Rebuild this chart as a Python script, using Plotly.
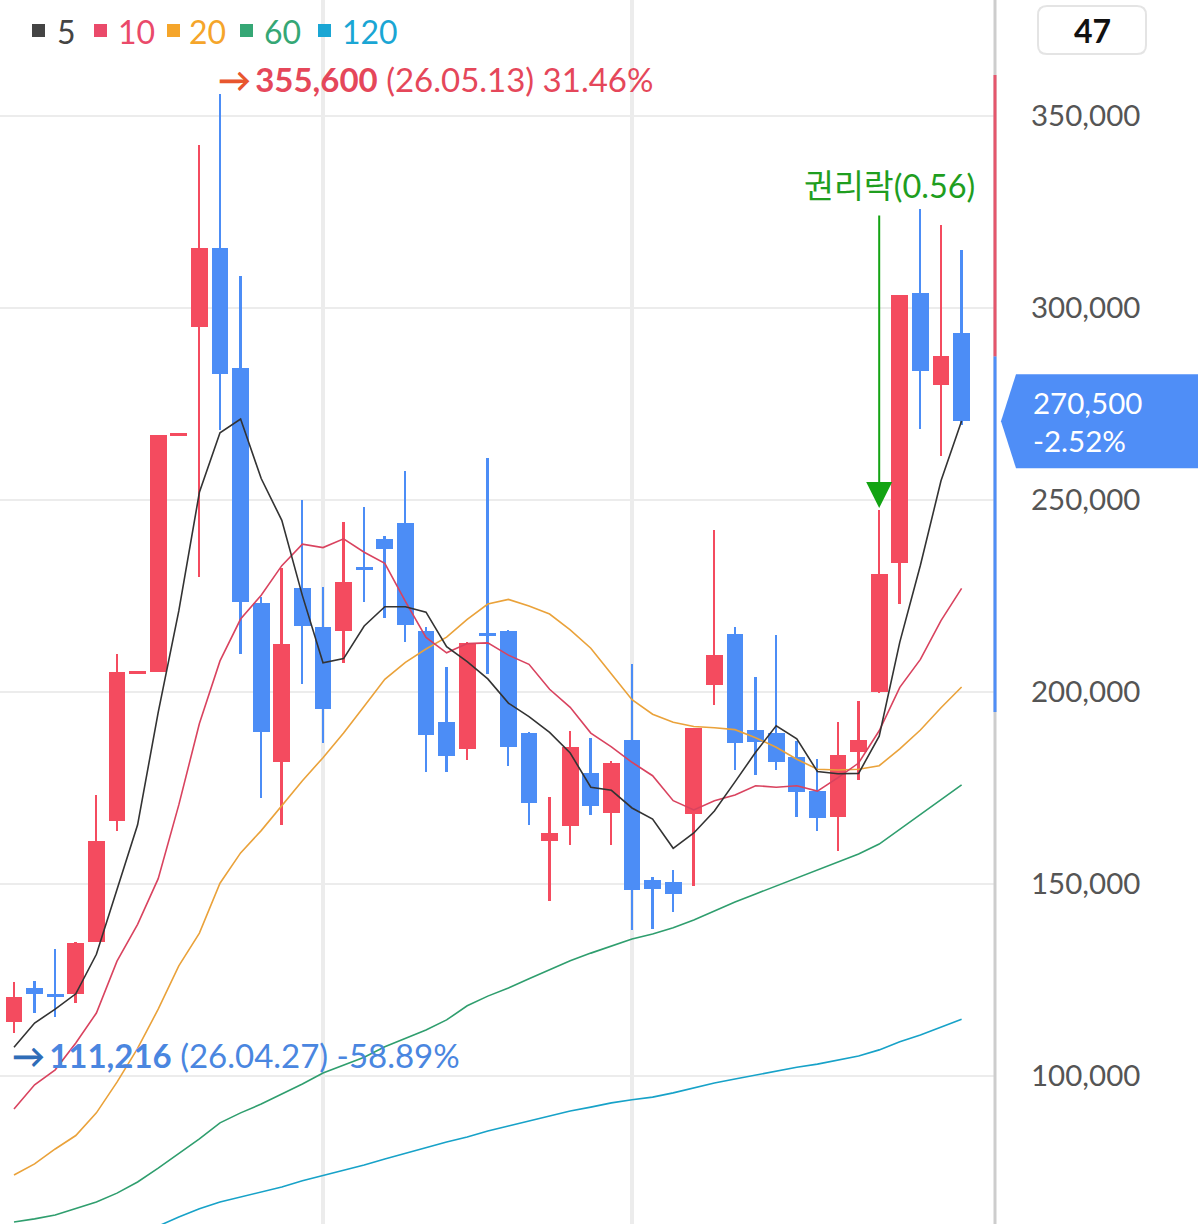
import plotly.graph_objects as go

# ---------------- data ----------------
idx = list(range(47))
open_ = [114000, 122900, 121200, 121300, 134900, 166400, 205200, 205200, 267000, 295000,
         315600, 284300, 223100, 181900, 227000, 216900, 215800, 232300, 239900, 243900,
         215800, 192200, 185100, 215100, 215900, 189200, 161100, 165200, 178800, 168400,
         187500, 151000, 150400, 168100, 201900, 215100, 190100, 189200, 183200, 174100,
         167400, 184300, 200000, 233500, 303900, 280000, 293400]
high = [124400, 124800, 133000, 134900, 173200, 209800, 205200, 267000, 267000, 342500,
        355600, 308400, 224700, 232200, 249900, 227400, 244200, 248200, 240700, 257600,
        217000, 206500, 212900, 261000, 216100, 189500, 172700, 189900, 187900, 182100,
        207400, 151700, 153600, 190700, 242300, 216900, 203800, 214800, 187200, 182600,
        192200, 197700, 247400, 303500, 325900, 321500, 315000]
low = [111216, 116500, 115400, 119100, 134900, 163800, 205200, 205200, 267000, 230000,
       268200, 210000, 172400, 165400, 202100, 186800, 207500, 223400, 219400, 213000,
       179100, 179200, 182300, 204600, 180800, 165400, 145700, 160200, 168000, 160200,
       137900, 138300, 142800, 149500, 196500, 179800, 178300, 179800, 167400, 163700,
       158500, 177200, 199800, 222800, 268500, 261500, 269600]
close = [120600, 121300, 120700, 134700, 161200, 205200, 205200, 267000, 267000, 315600,
         282700, 223400, 189500, 212500, 217200, 195600, 228700, 232100, 237200, 217400,
         188800, 183400, 212700, 214900, 185600, 171200, 163300, 185700, 170400, 181400,
         148400, 148700, 147400, 190600, 209700, 186700, 187000, 181900, 173900, 167200,
         183500, 187500, 230600, 303500, 283500, 287400, 270500]

ma5 = [107500, 113800, 117400, 121400, 131700, 148600, 165400, 194700, 221100, 252000,
       267500, 271100, 255600, 244700, 225100, 207600, 208700, 217200, 222200, 222200,
       220800, 211800, 207900, 203400, 197100, 193600, 189500, 184100, 175200, 174400,
       169800, 166900, 159300, 163300, 169000, 176600, 184300, 191200, 187800, 179300,
       178700, 178800, 188500, 213000, 233000, 255000, 270600]
ma10 = [91400, 97700, 101600, 108600, 116400, 129900, 139500, 151400, 170600, 191800,
        208100, 219000, 225200, 232900, 238500, 237600, 239900, 236400, 233500, 223600,
        214200, 210200, 212600, 212800, 209600, 207200, 200700, 196000, 189300, 185700,
        181700, 178200, 171700, 169300, 171700, 173200, 175600, 175200, 175600, 174200,
        177700, 181500, 189900, 201200, 208500, 218600, 227000]
ma20 = [74200, 77100, 81000, 84500, 90400, 98400, 107200, 117400, 128700, 137200,
        150200, 158100, 163900, 170400, 176900, 182900, 189300, 196300, 203300, 207700,
        211200, 214300, 218900, 222900, 224100, 222400, 220300, 216200, 211400, 204700,
        198000, 194200, 192100, 191000, 190700, 190200, 188100, 185600, 182500, 179900,
        179700, 179900, 180800, 185200, 190100, 195900, 201300]
ma60 = [62000, 62800, 63800, 65400, 67200, 69500, 72400, 76000, 79700, 83600,
        87800, 90400, 92700, 95300, 97900, 100800, 102900, 104900, 107600, 109900,
        112000, 114600, 118300, 120800, 122900, 125300, 127600, 130000, 132000, 133900,
        135700, 137000, 138600, 140600, 143000, 145300, 147400, 149500, 151600, 153700,
        155700, 157800, 160400, 164300, 168200, 172100, 175800]
ma120 = [52400, 53500, 54600, 55700, 56800, 58000, 59300, 60900, 63300, 65400,
         67200, 68500, 69800, 71100, 72700, 74000, 75500, 76800, 78400, 79900,
         81300, 82800, 84100, 85700, 87000, 88300, 89600, 90900, 91900, 93000,
         93800, 94500, 95600, 96900, 98200, 99200, 100300, 101300, 102300, 103100,
         104200, 105200, 106800, 108900, 110700, 112800, 114800]

ma_labels = ["5", "10", "20", "60", "120"]
y_ticks = [100000, 150000, 200000, 250000, 300000, 350000]
y_tick_text = ["100,000", "150,000", "200,000", "250,000", "300,000", "350,000"]
month_breaks = [15, 30]
price_band = [360700, 287400, 194800]   # upper, previous close, lower
hi_idx, hi_text = 10, ["355,600", "(26.05.13) 31.46%"]
lo_idx, lo_text = 0, ["111,216", "(26.04.27) -58.89%"]
event_idx, event_text = 42, "권리락(0.56)"
count_text = "47"
last_text = ["270,500", "-2.52%"]

# ---------------- style ----------------
RED, BLUE = "#f44b5f", "#4c8df6"
MA_COLORS = ["#333333", "#d9435f", "#eaa23a", "#2f9e6e", "#17a2c8"]
LEG_COLORS = ["#444444", "#ea4a6a", "#f5a52a", "#35a775", "#1aa6d4"]
FONT = "Lato, 'Noto Sans', sans-serif"

W, H = 1200, 1224
PW = 995                      # plot width in px
SP = 20.6                     # px per candle
x_lo = -14 / SP
x_hi = x_lo + PW / SP
y_hi, y_lo = 380208, 61458
per_px = (y_hi - y_lo) / H


def px(p):
    return p / PW


def py(p):
    return 1 - p / H


up = []
for i in idx:
    if close[i] > open_[i]:
        up.append(True)
    elif close[i] < open_[i]:
        up.append(False)
    else:
        up.append(i > 0 and close[i] >= close[i - 1])
cols = [RED if u else BLUE for u in up]

min_h = 3 * per_px
body_base, body_h = [], []
for o, c in zip(open_, close):
    lo_, hi_ = min(o, c), max(o, c)
    if hi_ - lo_ < min_h:
        mid = (hi_ + lo_) / 2
        body_base.append(mid - min_h / 2)
        body_h.append(min_h)
    else:
        body_base.append(lo_)
        body_h.append(hi_ - lo_)

fig = go.Figure()
for series, col in zip([ma120, ma60, ma20, ma10, ma5], MA_COLORS[::-1]):
    fig.add_trace(go.Scatter(x=idx, y=series, mode="lines",
                             line=dict(color=col, width=1.6), hoverinfo="skip"))

fig.add_trace(go.Bar(x=idx, base=low, y=[h - l for h, l in zip(high, low)],
                     width=0.09, marker=dict(color=cols, line=dict(width=0)),
                     hoverinfo="skip"))
fig.add_trace(go.Bar(x=idx, base=body_base, y=body_h, width=0.82,
                     marker=dict(color=cols, line=dict(width=0)), hoverinfo="skip"))

fig.update_layout(
    width=W, height=H, margin=dict(l=0, r=W - PW, t=0, b=0),
    plot_bgcolor="white", paper_bgcolor="white", showlegend=False,
    barmode="overlay", bargap=0,
    font=dict(family=FONT),
    xaxis=dict(range=[x_lo, x_hi], tickvals=month_breaks, showticklabels=False,
               showgrid=True, gridcolor="#ececec", gridwidth=4, zeroline=False,
               ticks="", showline=False, fixedrange=True),
    yaxis=dict(range=[y_lo, y_hi], side="right", tickvals=y_ticks, ticktext=y_tick_text,
               tickfont=dict(size=29.5, color="#555555", family=FONT),
               showgrid=True, gridcolor="#ececec", gridwidth=2, zeroline=False,
               ticks="", ticklabelstandoff=35, showline=False, fixedrange=True),
)

shapes = []
# right border and price band
shapes.append(dict(type="line", xref="paper", yref="paper", x0=1, x1=1, y0=0, y1=1,
                   line=dict(color="#cdcdcd", width=3)))
shapes.append(dict(type="line", xref="paper", yref="y", x0=1, x1=1,
                   y0=price_band[1], y1=price_band[0], line=dict(color="#e5566c", width=3)))
shapes.append(dict(type="line", xref="paper", yref="y", x0=1, x1=1,
                   y0=price_band[2], y1=price_band[1], line=dict(color="#4f8ef7", width=3)))

# legend squares
leg_sq_x = [32, 94, 167, 240, 318]
leg_tx_x = [55, 116, 187, 262, 340]
for sx, col in zip(leg_sq_x, LEG_COLORS):
    shapes.append(dict(type="rect", xref="paper", yref="paper",
                       x0=px(sx), x1=px(sx + 13), y0=py(37), y1=py(24),
                       fillcolor=col, line=dict(width=0)))

# count box (rounded)
bx0, bx1, by0, by1, r = 1038, 1146, 6, 54, 9
path = (f"M {px(bx0 + r)},{py(by0)} L {px(bx1 - r)},{py(by0)} "
        f"Q {px(bx1)},{py(by0)} {px(bx1)},{py(by0 + r)} L {px(bx1)},{py(by1 - r)} "
        f"Q {px(bx1)},{py(by1)} {px(bx1 - r)},{py(by1)} L {px(bx0 + r)},{py(by1)} "
        f"Q {px(bx0)},{py(by1)} {px(bx0)},{py(by1 - r)} L {px(bx0)},{py(by0 + r)} "
        f"Q {px(bx0)},{py(by0)} {px(bx0 + r)},{py(by0)} Z")
shapes.append(dict(type="path", xref="paper", yref="paper", path=path,
                   fillcolor="white", line=dict(color="#e4e4e4", width=2)))

# current price tag
yc = (close[-1] - y_lo) / (y_hi - y_lo)
half = 47 / H
tag = (f"M {px(1001)},{yc} L {px(1016)},{yc + half} L {px(1198)},{yc + half} "
       f"L {px(1198)},{yc - half} L {px(1016)},{yc - half} Z")
shapes.append(dict(type="path", xref="paper", yref="paper", path=tag,
                   fillcolor="#4f8ef7", line=dict(width=0)))

fig.update_layout(shapes=shapes)

ann = []
for tx, lab, col in zip(leg_tx_x, ma_labels, LEG_COLORS):
    ann.append(dict(xref="paper", yref="paper", x=px(tx), y=py(31), text=lab,
                    showarrow=False, xanchor="left", yanchor="middle",
                    font=dict(size=32, color=col, family=FONT)))

ann.append(dict(xref="paper", yref="paper", x=px(1092), y=py(30), text=f"<b>{count_text}</b>",
                showarrow=False, xanchor="center", yanchor="middle",
                font=dict(size=32, color="#111111", family=FONT)))

ann.append(dict(xref="paper", yref="y", x=px(1031), y=close[-1],
                text="<br>".join(last_text), showarrow=False, align="left",
                xanchor="left", yanchor="middle",
                font=dict(size=29.5, color="white", family=FONT)))

ann.append(dict(x=hi_idx, y=high[hi_idx], xanchor="left", yanchor="middle",
                xshift=-4, yshift=15, showarrow=False,
                text=f"<span style='color:#e8562e'><b>→</b></span>\u2009<b>{hi_text[0]}</b> {hi_text[1]}",
                font=dict(size=33, color="#e5475a", family=FONT)))

ann.append(dict(x=lo_idx, y=low[lo_idx], xanchor="left", yanchor="middle",
                xshift=-4, yshift=-22, showarrow=False,
                text=f"<span style='color:#2f6db8'><b>→</b></span>\u2009<b>{lo_text[0]}</b> {lo_text[1]}",
                font=dict(size=33, color="#4a86e0", family=FONT)))

ann.append(dict(x=event_idx, y=high[event_idx], text="", showarrow=True,
                ax=0, ay=-296, arrowhead=2, arrowsize=2.6, arrowwidth=2,
                arrowcolor="#13a313", standoff=2))
ann.append(dict(x=event_idx, y=high[event_idx], text=event_text, showarrow=False,
                xanchor="center", yanchor="middle", xshift=10, yshift=324,
                font=dict(size=32.5, color="#1f9e1f",
                          family="Lato, 'Noto Sans CJK KR', sans-serif")))

fig.update_layout(annotations=ann)

fig.write_html("out.html")
